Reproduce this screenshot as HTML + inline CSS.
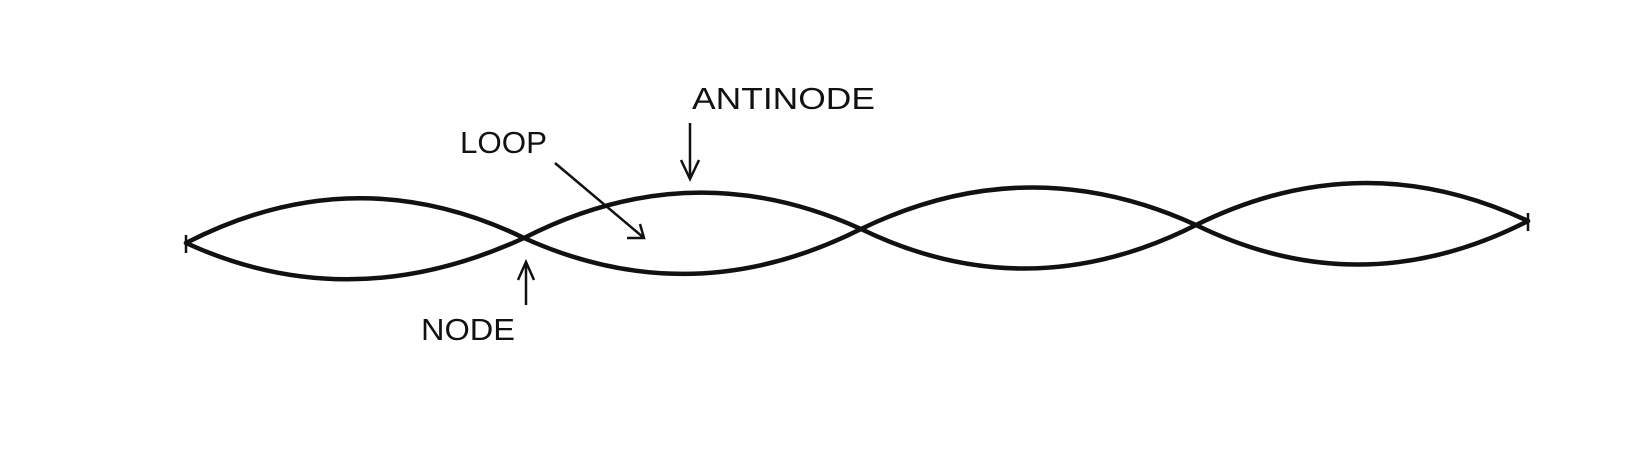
<!DOCTYPE html>
<html><head><meta charset="utf-8"><style>
html,body{margin:0;padding:0;background:#fff;}
svg{display:block;}
text{font-family:"Liberation Sans",sans-serif;font-size:31px;fill:#111;}
</style></head><body>
<svg width="1650" height="462" viewBox="0 0 1650 462" xmlns="http://www.w3.org/2000/svg">
<g fill="none" stroke="#111" stroke-width="4.5" stroke-linecap="round">
<path d="M186,243 Q355,156 524,238 Q692,152 861,229 Q1028,148 1196,225 Q1362,143 1528,221"/>
<path d="M186,243 Q350,318 524,238 Q692,314 861,229 Q1028,310 1196,225 Q1362,306 1528,221"/>
</g>
<g stroke="#111" stroke-width="2.5" fill="none">
<line x1="186" y1="235" x2="186" y2="253"/>
<line x1="1528" y1="213" x2="1528" y2="231"/>
<line x1="690" y1="123" x2="690" y2="179"/>
<polyline points="681,160 690,179 699,160"/>
<line x1="555" y1="163" x2="644" y2="238"/>
<polyline points="627,238 644,238 640,224"/>
<line x1="526" y1="305" x2="526" y2="262"/>
<polyline points="518,280 526,262 534,280"/>
</g>
<text x="692" y="109" textLength="183" lengthAdjust="spacingAndGlyphs">ANTINODE</text>
<text x="460" y="153" textLength="87" lengthAdjust="spacingAndGlyphs">LOOP</text>
<text x="421" y="340" textLength="94" lengthAdjust="spacingAndGlyphs">NODE</text>
</svg>
</body></html>
